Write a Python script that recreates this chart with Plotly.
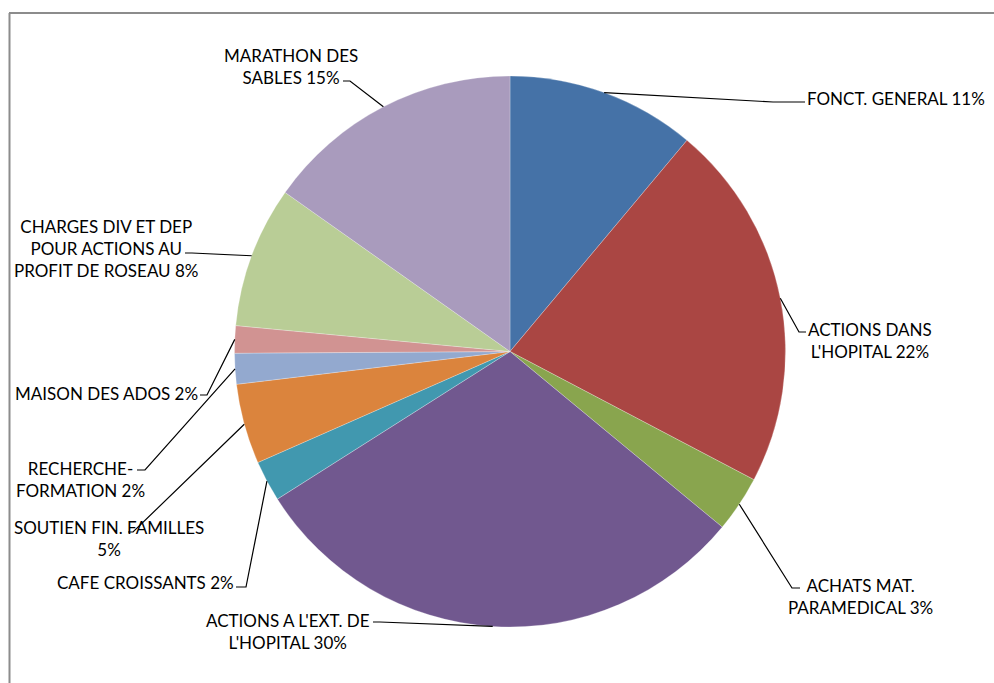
import math
import plotly.graph_objects as go

# ---------------- data ----------------
categories = [
    "FONCT. GENERAL",
    "ACTIONS DANS L'HOPITAL",
    "ACHATS MAT. PARAMEDICAL",
    "ACTIONS A L'EXT. DE L'HOPITAL",
    "CAFE CROISSANTS",
    "SOUTIEN FIN. FAMILLES",
    "RECHERCHE-FORMATION",
    "MAISON DES ADOS",
    "CHARGES DIV ET DEP POUR ACTIONS AU PROFIT DE ROSEAU",
    "MARATHON DES SABLES",
]
values = [11.1, 21.6, 3.3, 30.0, 2.4, 4.7, 1.8, 1.6, 8.3, 15.2]
# how each label wraps (the percentage is appended to the last line)
label_lines = [
    ["FONCT. GENERAL"],
    ["ACTIONS DANS", "L'HOPITAL"],
    ["ACHATS MAT.", "PARAMEDICAL"],
    ["ACTIONS A L'EXT. DE", "L'HOPITAL"],
    ["CAFE CROISSANTS"],
    ["SOUTIEN FIN. FAMILLES", ""],
    ["RECHERCHE-", "FORMATION"],
    ["MAISON DES ADOS"],
    ["CHARGES DIV ET DEP", "POUR ACTIONS AU", "PROFIT DE ROSEAU"],
    ["MARATHON DES", "SABLES"],
]
colors = ["#4572A7", "#AA4643", "#89A54E", "#71588F", "#4198AF",
          "#DB843D", "#93A9CF", "#D19392", "#B9CD96", "#A99BBD"]

# ---------------- layout (pixels) ----------------
W, H = 994, 683
CX, CY, R = 510, 351.5, 275.5
# label block centre, leader elbow, leader end
label_layout = [
    dict(c=(896, 99), elbow=(773, 102), end=(805, 102)),
    dict(c=(870, 340), elbow=(799, 332), end=(806, 332)),
    dict(c=(860, 596), elbow=(792, 588), end=(800, 588)),
    dict(c=(288, 631), elbow=(380, 622), end=(373, 622)),
    dict(c=(145, 582), elbow=(246, 587), end=(236, 587)),
    dict(c=(109, 538), elbow=(133, 532), end=(128, 532)),
    dict(c=(80, 479), elbow=(145, 470), end=(137, 470)),
    dict(c=(106, 393), elbow=(207, 395), end=(200, 395)),
    dict(c=(106, 248), elbow=(192, 253), end=(185, 253)),
    dict(c=(291, 66), elbow=(350, 81), end=(343, 81)),
]


def px(x):
    return x / W


def py(y):
    return 1 - y / H


total = sum(values)
fig = go.Figure(go.Pie(
    labels=categories,
    values=values,
    sort=False,
    direction="clockwise",
    rotation=0,
    marker=dict(colors=colors, line=dict(color="rgba(255,255,255,0.5)", width=0.5)),
    textinfo="none",
    hoverinfo="label+percent",
    showlegend=False,
    domain=dict(x=[px(CX - R), px(CX + R)], y=[py(CY + R), py(CY - R)]),
))

annotations = []
shapes = []
cum = 0.0
for v, lines, lay in zip(values, label_lines, label_layout):
    pct = f"{round(v / total * 100)}%"
    txt_lines = list(lines)
    if txt_lines[-1] == "":
        txt_lines[-1] = pct
    else:
        txt_lines[-1] = txt_lines[-1] + " " + pct
    annotations.append(dict(
        x=px(lay["c"][0]), y=py(lay["c"][1]), xref="paper", yref="paper",
        text="<br>".join(txt_lines), showarrow=False, align="center",
        xanchor="center", yanchor="middle",
        font=dict(family="Lato, Carlito, sans-serif", size=17, color="#000000"),
    ))
    mid = (cum + v / 2) / total * 2 * math.pi
    cum += v
    sx = CX + R * math.sin(mid)
    sy = CY - R * math.cos(mid)
    ex, ey = lay["elbow"]
    tx, ty = lay["end"]
    shapes.append(dict(
        type="path", xref="paper", yref="paper",
        path=f"M {px(sx)} {py(sy)} L {px(ex)} {py(ey)} L {px(tx)} {py(ty)}",
        line=dict(color="#000000", width=1.2),
    ))

# chart-area border (only top and left visible in crop)
shapes.append(dict(type="line", xref="paper", yref="paper",
                   x0=px(9), y0=py(13), x1=px(994), y1=py(13),
                   line=dict(color="#8c8c8c", width=2)))
shapes.append(dict(type="line", xref="paper", yref="paper",
                   x0=px(9.5), y0=py(13), x1=px(9.5), y1=py(683),
                   line=dict(color="#8c8c8c", width=2)))

fig.update_layout(
    width=W, height=H,
    margin=dict(l=0, r=0, t=0, b=0),
    paper_bgcolor="white", plot_bgcolor="white",
    annotations=annotations, shapes=shapes,
)
fig.write_html(
    "out.html",
    config={"displayModeBar": False},
    post_script="document.body.style.margin='0';document.body.style.overflow='hidden';",
)
